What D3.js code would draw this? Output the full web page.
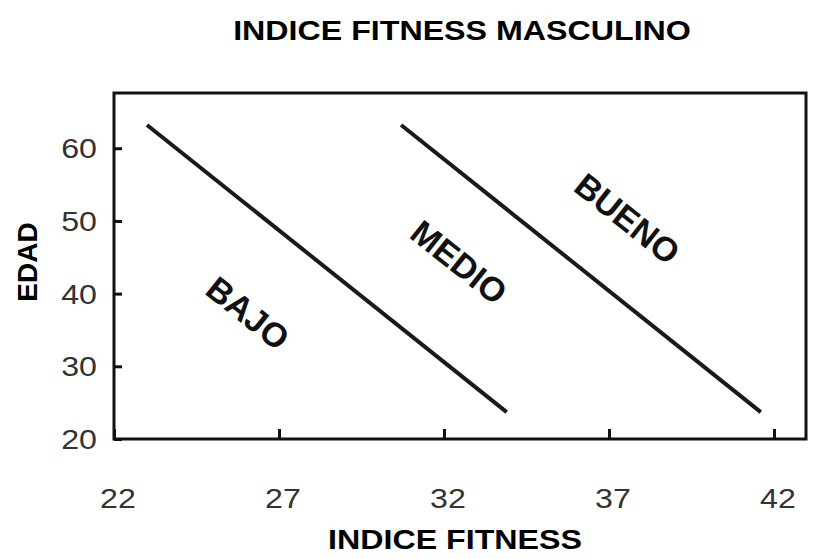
<!DOCTYPE html><html><head><meta charset="utf-8"><script src="https://cdn.jsdelivr.net/npm/d3@7"></script>
<style>body{margin:0;background:#fff}text{font-family:"Liberation Sans",Arial,sans-serif}</style></head><body><svg width="817" height="559"></svg>
<script>
const xTicks=[22,27,32,37,42];
const yTicks=[20,30,40,50,60];
const lineBajoMedio=[[23,63.2],[33.9,23.7]];
const lineMedioBueno=[[30.7,63.2],[41.6,23.7]];
const zoneLabels=["BAJO","MEDIO","BUENO"];
const zonePos=[[26,37],[32.4,44],[37.5,50]];
const svg=d3.select("svg");
const x=d3.scaleLinear().domain([22,42.97]).range([114,806]);
const y=d3.scaleLinear().domain([20,67.6]).range([439,93]);
function st(sel,cx,cy){return sel.attr("transform",`translate(${cx},${cy}) scale(1.15,1)`).attr("x",0).attr("y",0);}
st(svg.append("text"),462,40).attr("text-anchor","middle").attr("font-size",28).attr("font-weight","bold").text("INDICE FITNESS MASCULINO");
svg.append("g").attr("transform","translate(0,439)").call(d3.axisTop(x).tickValues(xTicks).tickSize(10).tickFormat("")).call(g=>{g.select(".domain").remove();g.selectAll("line").attr("stroke","#111").attr("stroke-width",3)});
svg.append("g").attr("transform","translate(114,0)").call(d3.axisRight(y).tickValues(yTicks).tickSize(8).tickFormat("")).call(g=>{g.select(".domain").remove();g.selectAll("line").attr("stroke","#111").attr("stroke-width",3)});
svg.append("rect").attr("x",114).attr("y",93).attr("width",692).attr("height",346).attr("fill","none").attr("stroke","#111").attr("stroke-width",3);
svg.selectAll(".xl").data(xTicks).enter().append("text").attr("transform",d=>`translate(${x(d)+4},508) scale(1.15,1)`).attr("text-anchor","middle").attr("font-size",28).attr("fill","#333").text(d=>d);
svg.selectAll(".yl").data(yTicks).enter().append("text").attr("transform",d=>`translate(97,${y(d)+10}) scale(1.15,1)`).attr("text-anchor","end").attr("font-size",28).attr("fill","#333").text(d=>d);
st(svg.append("text"),455,549).attr("text-anchor","middle").attr("font-size",28).attr("font-weight","bold").text("INDICE FITNESS");
svg.append("text").attr("transform","translate(37,262) rotate(-90)").attr("text-anchor","middle").attr("font-size",28).attr("font-weight","bold").text("EDAD");
const ln=d3.line().x(d=>x(d[0])).y(d=>y(d[1]));
[lineBajoMedio,lineMedioBueno].forEach(l=>svg.append("path").attr("d",ln(l)).attr("stroke","#1a1a1a").attr("stroke-width",4).attr("fill","none"));
zoneLabels.forEach((t,i)=>svg.append("text").attr("transform",`translate(${x(zonePos[i][0])},${y(zonePos[i][1])}) rotate(38.6)`).attr("text-anchor","middle").attr("dominant-baseline","middle").attr("font-size",34).attr("font-weight","bold").attr("fill","#111").text(t));
</script></body></html>
